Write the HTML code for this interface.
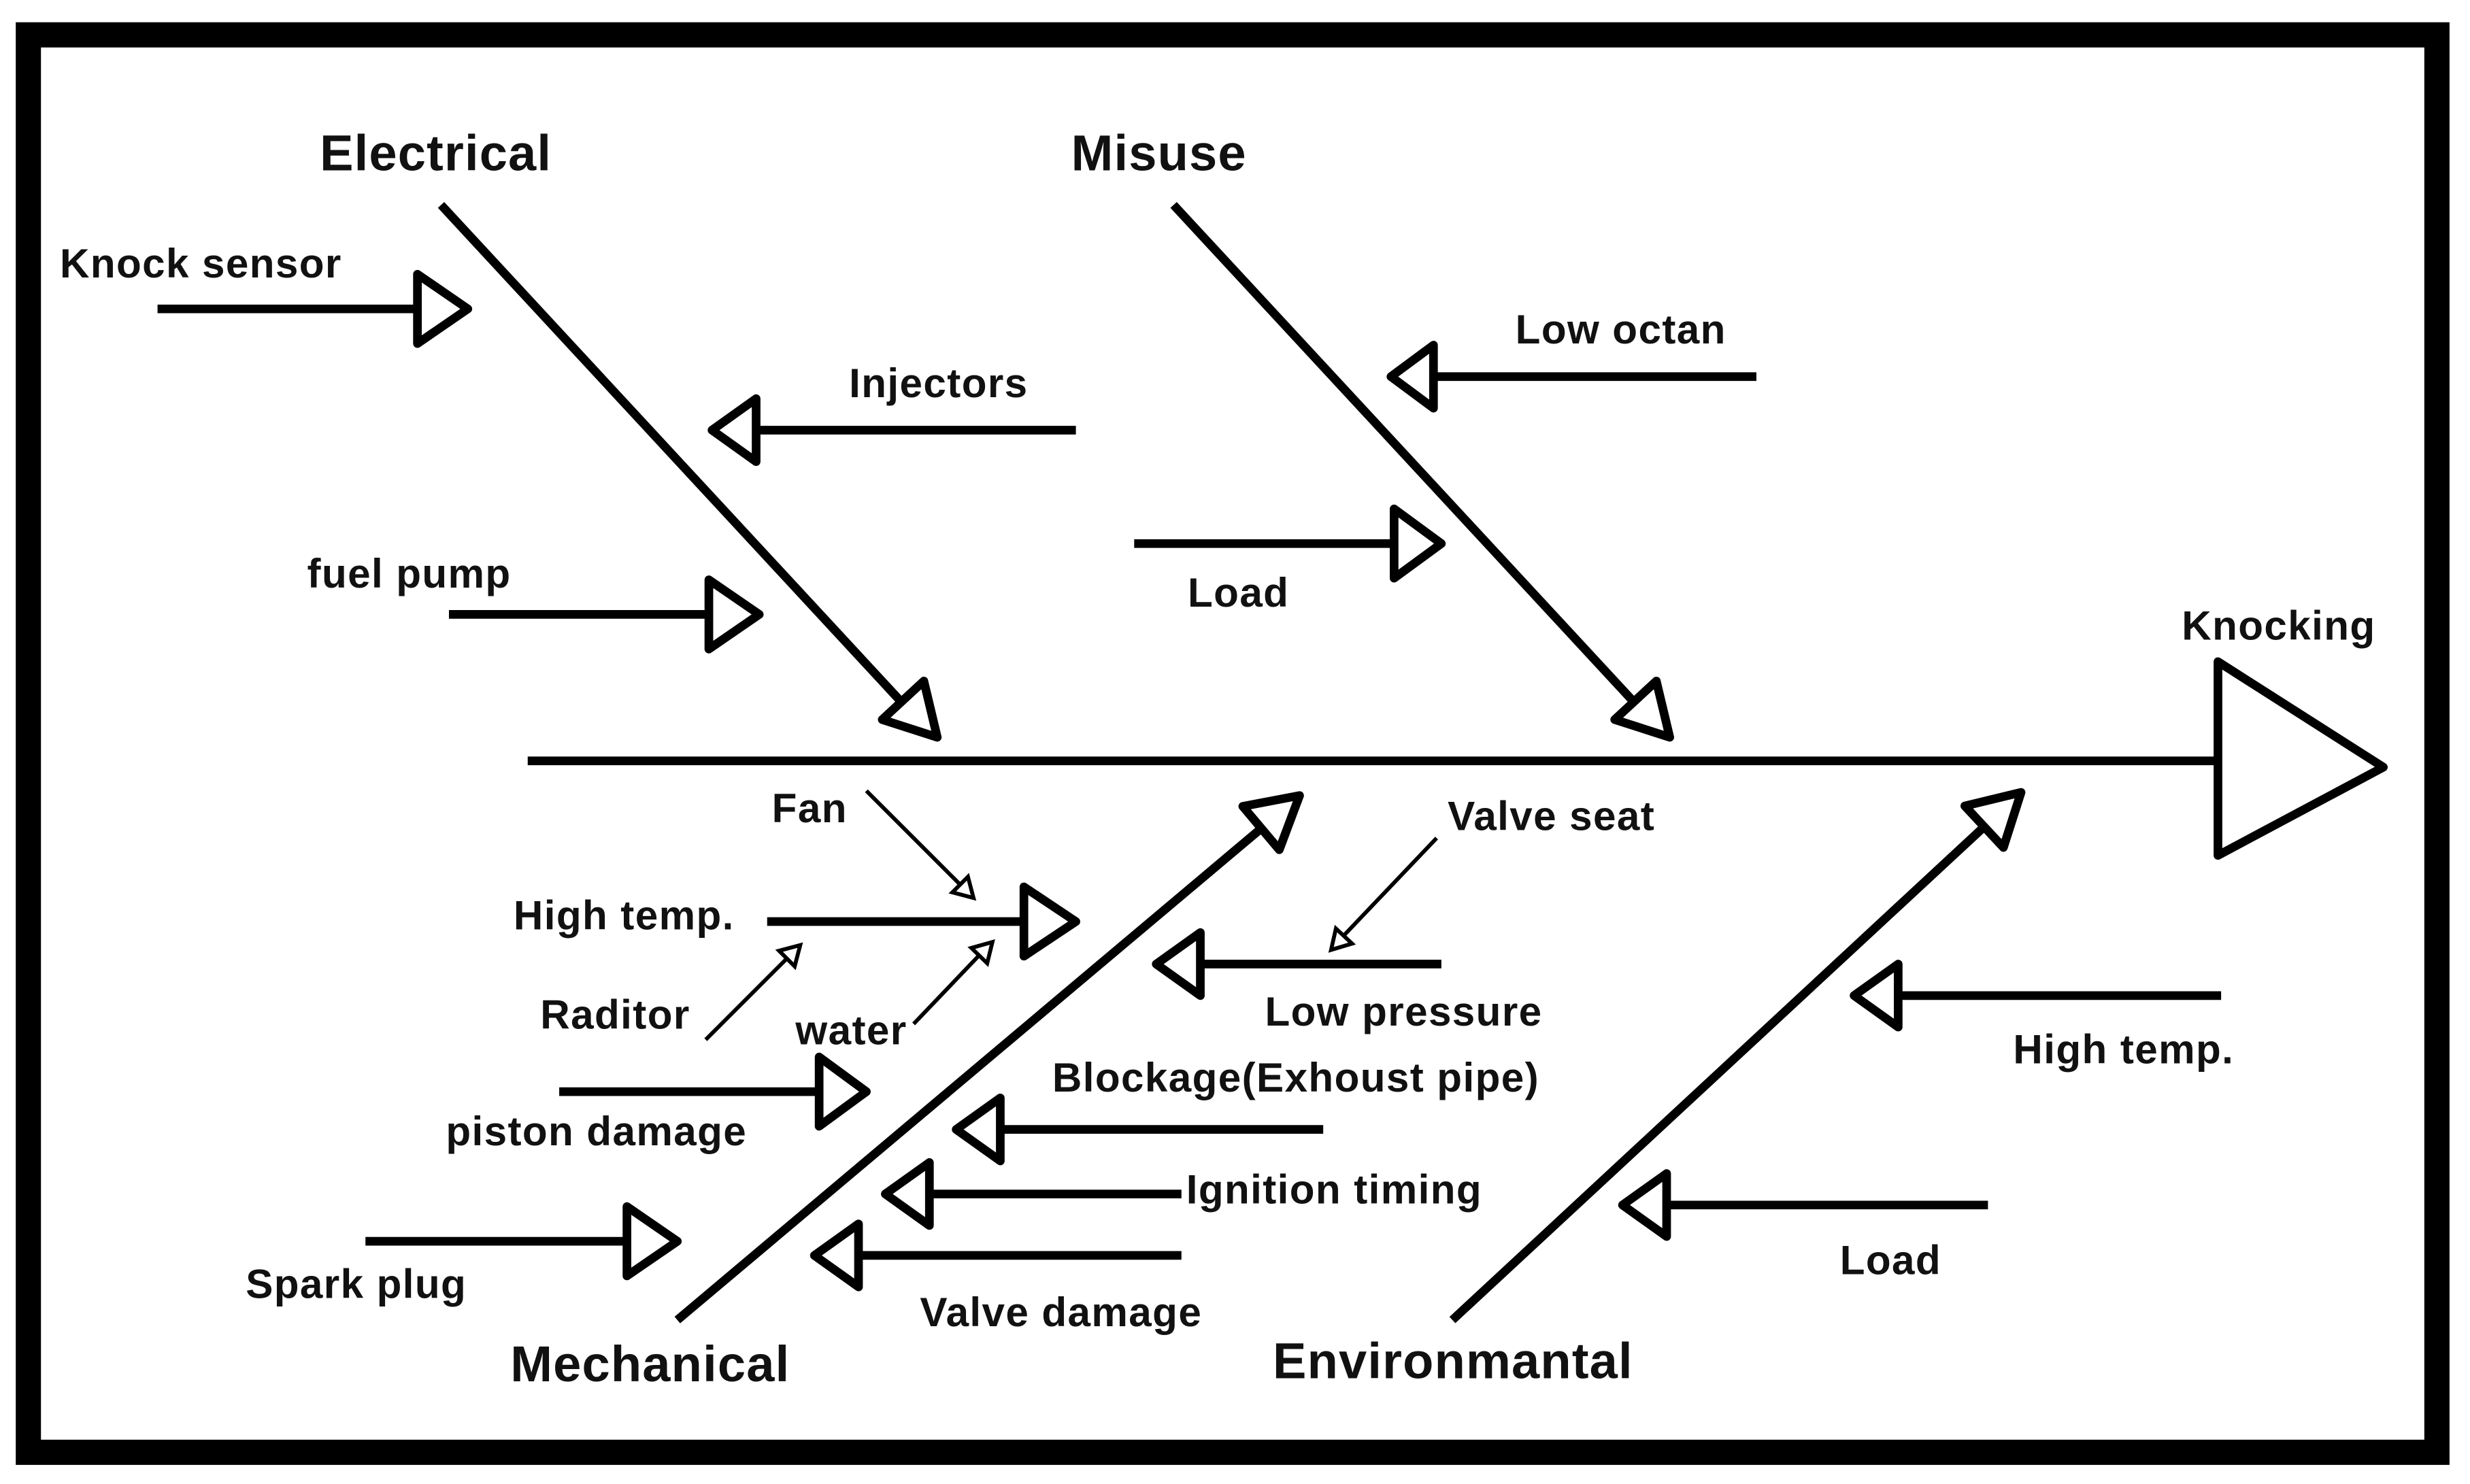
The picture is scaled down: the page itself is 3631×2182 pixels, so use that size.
<!DOCTYPE html>
<html><head><meta charset="utf-8"><style>
html,body{margin:0;padding:0;background:#fff;}
svg{display:block;}
text{font-family:"Liberation Sans",Arial,sans-serif;font-weight:bold;fill:#111;}
.c{font-size:32px;letter-spacing:0.5px;}
.l{font-size:26px;letter-spacing:0.6px;}
</style></head><body>
<svg width="3631" height="2182" viewBox="0 0 1568 942" xmlns="http://www.w3.org/2000/svg">
<rect x="0" y="0" width="1568" height="942" fill="#fff"/>
<rect x="18" y="22" width="1529" height="900" fill="none" stroke="#000" stroke-width="16"/>
<g stroke="#000" stroke-width="5.5" fill="#fff" stroke-linejoin="round">
<line x1="335" y1="483" x2="1408" y2="483"/>
<polygon points="1408,420 1408,543 1513,487"/>
<line x1="280" y1="130" x2="580" y2="454"/>
<polygon points="-32,-18 -32,18 0,0" transform="translate(595,468) rotate(47.2)"/>
<line x1="745" y1="130" x2="1045" y2="454"/>
<polygon points="-32,-18 -32,18 0,0" transform="translate(1060,468) rotate(47.2)"/>
<line x1="430" y1="838" x2="810" y2="518"/>
<polygon points="-32,-18 -32,18 0,0" transform="translate(825,505) rotate(-40.1)"/>
<line x1="922" y1="838" x2="1268" y2="517"/>
<polygon points="-32,-18 -32,18 0,0" transform="translate(1283,503) rotate(-42.9)"/>
<line x1="100" y1="196" x2="265" y2="196"/><polygon points="265,174 265,218 297,196"/>
<line x1="285" y1="390" x2="450" y2="390"/><polygon points="450,368 450,412 482,390"/>
<line x1="720" y1="345" x2="885" y2="345"/><polygon points="885,323 885,367 915,345"/>
<line x1="487" y1="585" x2="650" y2="585"/><polygon points="650,563 650,607 683,585"/>
<line x1="355" y1="693" x2="520" y2="693"/><polygon points="520,671 520,715 550,693"/>
<line x1="232" y1="788" x2="398" y2="788"/><polygon points="398,766 398,810 430,788"/>
<line x1="683" y1="273" x2="480" y2="273"/><polygon points="480,253 480,293 452,273"/>
<line x1="1115" y1="239" x2="910" y2="239"/><polygon points="910,219 910,259 883,239"/>
<line x1="915" y1="612" x2="762" y2="612"/><polygon points="762,592 762,632 734,612"/>
<line x1="840" y1="717" x2="635" y2="717"/><polygon points="635,697 635,737 607,717"/>
<line x1="750" y1="758" x2="590" y2="758"/><polygon points="590,738 590,778 562,758"/>
<line x1="750" y1="797" x2="545" y2="797"/><polygon points="545,777 545,817 517,797"/>
<line x1="1410" y1="632" x2="1205" y2="632"/><polygon points="1205,612 1205,652 1177,632"/>
<line x1="1262" y1="765" x2="1058" y2="765"/><polygon points="1058,745 1058,785 1030,765"/>
</g>
<g stroke="#000" stroke-width="2.5" fill="#fff">
<line x1="550" y1="502" x2="610" y2="562"/>
<polygon points="-12,-7 -12,7 0,0" transform="translate(618,570) rotate(45)"/>
<line x1="448" y1="660" x2="501" y2="607"/>
<polygon points="-12,-7 -12,7 0,0" transform="translate(508,600) rotate(-45)"/>
<line x1="580" y1="650" x2="623" y2="605"/>
<polygon points="-12,-7 -12,7 0,0" transform="translate(630,598) rotate(-46)"/>
<line x1="912" y1="532" x2="852" y2="595"/>
<polygon points="-12,-7 -12,7 0,0" transform="translate(845,603) rotate(133)"/>
</g>
<text class="c" x="203" y="108">Electrical</text>
<text class="c" x="680" y="108">Misuse</text>
<text class="c" x="324" y="877">Mechanical</text>
<text class="c" x="808" y="875">Environmantal</text>
<text class="l" x="1385" y="406">Knocking</text>
<text class="l" x="38" y="176">Knock sensor</text>
<text class="l" x="539" y="252">Injectors</text>
<text class="l" x="195" y="373">fuel pump</text>
<text class="l" x="962" y="218">Low octan</text>
<text class="l" x="754" y="385">Load</text>
<text class="l" x="490" y="522">Fan</text>
<text class="l" x="919" y="527">Valve seat</text>
<text class="l" x="326" y="590">High temp.</text>
<text class="l" x="343" y="653">Raditor</text>
<text class="l" x="505" y="663">water</text>
<text class="l" x="803" y="651">Low pressure</text>
<text class="l" x="668" y="693">Blockage(Exhoust pipe)</text>
<text class="l" x="283" y="727">piston damage</text>
<text class="l" x="753" y="764">Ignition timing</text>
<text class="l" x="156" y="824">Spark plug</text>
<text class="l" x="584" y="842">Valve damage</text>
<text class="l" x="1278" y="675">High temp.</text>
<text class="l" x="1168" y="809">Load</text>
</svg>
</body></html>
